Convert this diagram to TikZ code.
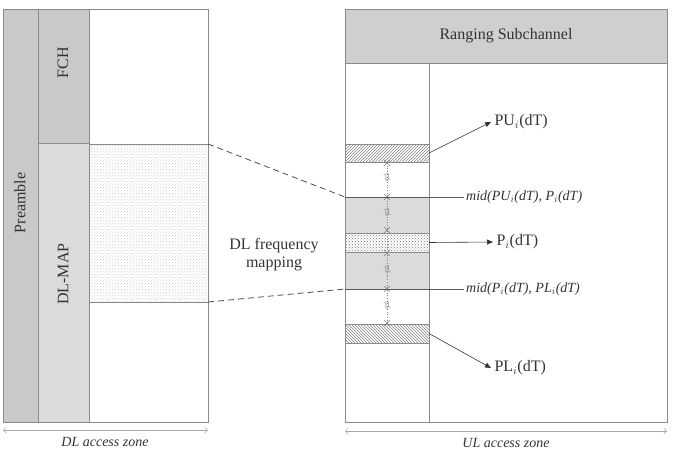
\documentclass[tikz,border=0pt]{standalone}
\usepackage{fontspec}
\setmainfont{Liberation Serif}
\usetikzlibrary{positioning}
\usetikzlibrary{patterns}
\usetikzlibrary{arrows.meta}
\usetikzlibrary{shapes.misc}
\definecolor{edgegray}{HTML}{8A8A8A}
\definecolor{inkgray}{HTML}{333333}

\begin{document}
\begin{tikzpicture} [x=1pt, y=-1pt, >={Triangle[length=6pt, width=5pt]},
        blk/.style = {draw=edgegray, line width=0.8pt, anchor=north west, inner sep=0pt, outer sep=0pt},
        txt/.style = {text=inkgray, font=\fontsize{16}{18}\selectfont},
        midtxt/.style = {text=inkgray, font=\fontsize{14}{16}\selectfont\itshape, anchor=west, inner sep=2pt},
        brk/.style = {cross out, draw=gray, line width=0.6pt, minimum size=5pt, inner sep=0pt},
        wav/.style = {text=gray, rotate=-65, inner sep=0pt, font=\fontsize{13}{13}\selectfont},
        zone/.style = {gray!70, line width=0.5pt, {Straight Barb[length=3pt]}-{Straight Barb[length=3pt]}}]
        \useasboundingbox (0,0) rectangle (675,450);

        %DL zone
        \node[blk, minimum width=205pt, minimum height=413pt] (dlz) at (3,9) {};
        \node[blk, fill=gray!42, minimum width=35pt, minimum height=413pt] (pre) at (3,9) {};
        \node[blk, fill=gray!42, minimum width=51pt, minimum height=134pt] (fch) at (38,9) {};
        \node[blk, fill=gray!28, minimum width=51pt, minimum height=279pt] (dlmap) at (38,143) {};
        \node[blk, fill=gray!6, pattern=crosshatch dots, pattern color=gray!35, minimum width=119pt, minimum height=158pt] (dlm) at (89,144) {};

        \node[txt, rotate=90] (preT) at (20,203) {Preamble};
        \node[txt, rotate=90] (fchT) at (63,63) {FCH};
        \node[txt, rotate=90] (dlmapT) at (63,274) {DL-MAP};

        \node[txt, align=center] (map) at (274,255) {DL frequency\\mapping};

        %UL zone
        \node[blk, minimum width=322pt, minimum height=413pt] (ulz) at (345,9) {};
        \node[blk, fill=gray!38, minimum width=322pt, minimum height=54pt] (rng) at (345,9) {};
        \node[txt] (rngT) at (506,36) {Ranging Subchannel};
        \coordinate (col) at (429,422);

        \node[blk, pattern=north east lines, pattern color=gray, minimum width=84pt, minimum height=18pt] (pu) at (345,144) {};
        \node[blk, fill=gray!28, minimum width=84pt, minimum height=92pt] (mr) at (345,197) {};
        \node[blk, fill=white, minimum width=84pt, minimum height=19pt] (piw) at (345,233) {};
        \node[blk, pattern=crosshatch dots, pattern color=gray!95!black, minimum width=84pt, minimum height=19pt] (pi) at (345,233) {};
        \node[blk, pattern=north west lines, pattern color=gray, minimum width=84pt, minimum height=19pt] (pl) at (345,324) {};

        \node[txt, anchor=west] (puT) at (491,122) {PU$_i$(dT)};
        \node[txt, anchor=west] (piT) at (493,242) {P$_i$(dT)};
        \node[txt, anchor=west] (plT) at (491,368) {PL$_i$(dT)};

        \node[midtxt] (muT) at (464,197) {mid(PU$_i$(dT), P$_i$(dT)};
        \node[midtxt] (mlT) at (464,289) {mid(P$_i$(dT), PL$_i$(dT)};

        %break marks
        \draw[gray, dotted, line width=0.7pt] (387,163) -- (387,323);
        \foreach \y/\n in {163/b1, 197/b2, 230/b3, 253/b4, 289/b5, 323/b6}
            \node[brk] (\n) at (387,\y) {};
        \foreach \y in {178, 213, 270, 306}
            \node[wav] at (387,\y) {$\approx$};

        \node[midtxt, anchor=center] (dlzT) at (105,442) {DL access zone};
        \node[midtxt, anchor=center] (ulzT) at (506,443) {UL access zone};

        %lines
        \draw[edgegray, line width=0.8pt] (rng.south west -| col) -- (col);
        \draw[gray!70!black, line width=0.8pt] (mr.north west) -- (muT.west);
        \draw[gray!70!black, line width=0.8pt] (mr.south west) -- (mlT.west);

        \draw[->, inkgray, line width=0.6pt] (pu.east) -- (puT.west);
        \draw[->, inkgray, line width=0.6pt] (pi.east) -- (piT.west);
        \draw[->, inkgray, line width=0.6pt] (pl.east) -- (plT.west);

        \draw[dashed, gray!60!black, line width=0.8pt, dash pattern=on 6pt off 4pt] (dlm.north east) -- (mr.north west);
        \draw[dashed, gray!60!black, line width=0.8pt, dash pattern=on 6pt off 4pt] (dlm.south east) -- (mr.south west);

        \path (dlz.south west) ++(0,8) coordinate (d1) (dlz.south east) ++(0,8) coordinate (d2);
        \draw[zone] (d1) -- (d2);
        \path (ulz.south west) ++(0,9) coordinate (u1) (ulz.south east) ++(0,9) coordinate (u2);
        \draw[zone] (u1) -- (u2);

    \end{tikzpicture}
\end{document}
